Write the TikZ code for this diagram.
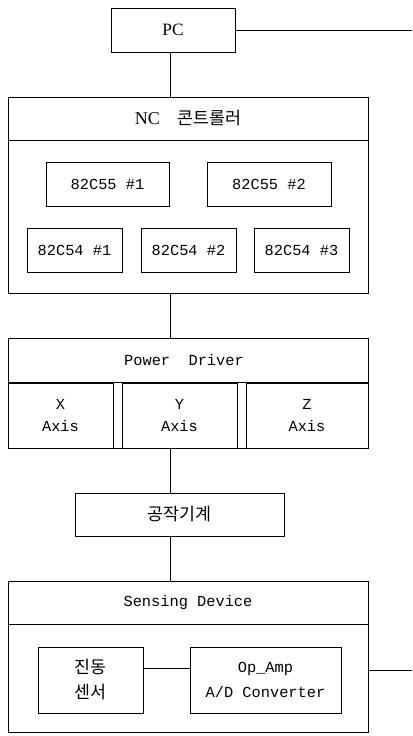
\documentclass[tikz,border=0pt]{standalone}
\usepackage{fontspec}
\setmainfont{Liberation Mono}
\newfontfamily\krfont{Noto Sans CJK KR}
\newfontfamily\seriffont{Liberation Serif}
\usepackage{tikz}
\usetikzlibrary{positioning,calc}

\begin{document}
\begin{tikzpicture}[x=0.75pt, y=-0.75pt,
  blk/.style={draw, line width=0.6pt, inner sep=0pt, align=center, font=\fontsize{11.5}{16.5}\selectfont},
  head/.style={blk, minimum width=270pt, minimum height=32.25pt},
  chip/.style={blk, minimum width=71.25pt, minimum height=33pt},
  axis/.style={blk, minimum height=48.75pt},
  kr/.style={font=\krfont\fontsize{13}{18.75}\selectfont},
  wire/.style={line width=0.6pt}
]
\useasboundingbox (0,0) rectangle (412,736);

\coordinate (spine) at (170,0);
\coordinate (outpc) at (412,30);
\coordinate (outsd) at (412,670);

\node [blk, minimum width=93pt, minimum height=33pt, font=\seriffont\fontsize{13}{15}\selectfont] (pc) at (173,30) {PC};

\node [head] (nchead) at (188,118.5) {{\seriffont\fontsize{13.5}{15}\selectfont NC}\hspace{13pt}{\krfont\fontsize{13}{15}\selectfont 콘트롤러}};
\node [blk, minimum width=270pt, minimum height=114.75pt] (ncbody) at (188,216.5) {};
\node [chip, minimum width=92.25pt] (ppi1) at (107.5,184) {82C55 \#1};
\node [chip, minimum width=93pt] (ppi2) at (269,184) {82C55 \#2};
\node [chip] (pit1) at (74.5,250) {82C54 \#1};
\node [chip] (pit2) at (188.5,250) {82C54 \#2};
\node [chip] (pit3) at (301.5,250) {82C54 \#3};

\node [blk, minimum width=270pt, minimum height=82.5pt] (pd) at (188,393) {};
\node [font=\fontsize{11.5}{14}\selectfont] (pdhead) at (184,360.5) {Power~~Driver};
\node [axis, minimum width=78.75pt] (xax) at (60.5,415.5) {X\\Axis};
\node [axis, minimum width=86.25pt] (yax) at (179.5,415.5) {Y\\Axis};
\node [axis, minimum width=91.5pt] (zax) at (307,415.5) {Z\\Axis};
\draw [wire] (pd.west |- xax.north) -- (pd.east |- xax.north);

\node [blk, kr, minimum width=156.75pt, minimum height=32.25pt] (mach) at (179.5,514.5) {공작기계};

\node [head] (sdhead) at (188,602.5) {Sensing Device};
\node [blk, minimum width=270pt, minimum height=81pt] (sdbody) at (188,678) {};
\node [blk, kr, minimum width=78.75pt, minimum height=49.5pt] (sensor) at (90.5,680) {진동\\센서};
\node [blk, minimum width=113.25pt, minimum height=49.5pt, font=\fontsize{11.5}{18.75}\selectfont] (opamp) at (265.5,680) {Op\_Amp\\A/D Converter};

\draw [wire] (pc.south -| spine) -- (nchead.north -| spine);
\draw [wire] (pc.east) -- (outpc);
\draw [wire] (ncbody.south -| spine) -- (pd.north -| spine);
\draw [wire] (pd.south -| spine) -- (mach.north -| spine);
\draw [wire] (mach.south -| spine) -- (sdhead.north -| spine);
\draw [wire] ([yshift=9pt]sensor.east) -- ([yshift=9pt]sensor.east -| opamp.west);
\draw [wire] (sdbody.east |- outsd) -- (outsd);
\end{tikzpicture}
\end{document}
